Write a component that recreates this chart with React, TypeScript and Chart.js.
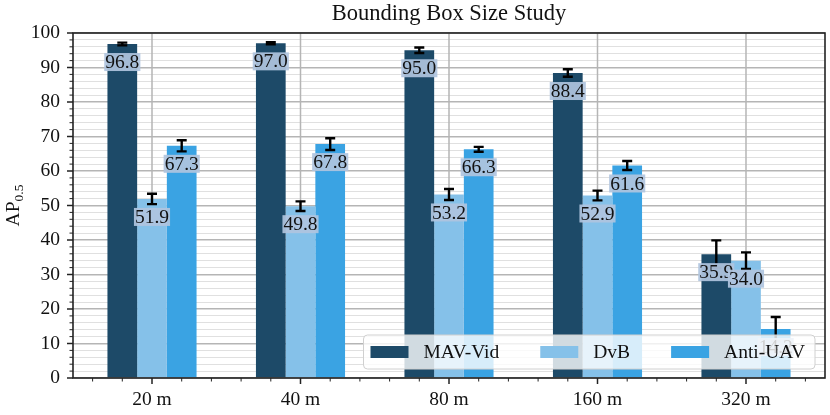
import React, { useEffect, useRef } from "react";
import Chart from "chart.js/auto";

const distances = ["20 m", "40 m", "80 m", "160 m", "320 m"];
const seriesNames = ["MAV-Vid", "DvB", "Anti-UAV"];
const mavVid = [96.8, 97.0, 95.0, 88.4, 35.9];
const mavVidErr = [0.4, 0.3, 0.8, 1.1, 4.0];
const dvb = [51.9, 49.8, 53.2, 52.9, 34.0];
const dvbErr = [1.5, 1.4, 1.6, 1.4, 2.4];
const antiUav = [67.3, 67.8, 66.3, 61.6, 14.2];
const antiUavErr = [1.6, 1.7, 0.7, 1.3, 3.5];

const colors = ["#1d4a68", "#85c1e9", "#3aa3e3"];
const FONT = '"Liberation Serif", "DejaVu Serif", serif';

// extra drawing: vertical grid, error bars, value labels, frame, minor ticks, legend, titles
const decorPlugin = {
  id: "decor",
  beforeDatasetsDraw(chart: any) {
    const ctx = chart.ctx;
    const { top, bottom } = chart.chartArea;
    const xScale = chart.scales.x;
    ctx.save();
    ctx.strokeStyle = "#b5b5b5";
    ctx.lineWidth = 1.5;
    xScale.ticks.forEach((t: any) => {
      const x = xScale.getPixelForValue(t.value);
      ctx.beginPath();
      ctx.moveTo(x, top);
      ctx.lineTo(x, bottom);
      ctx.stroke();
    });
    ctx.restore();
  },
  afterDatasetsDraw(chart: any) {
    const ctx = chart.ctx;
    const yScale = chart.scales.y;
    ctx.save();
    // error bars
    chart.data.datasets.forEach((ds: any, di: number) => {
      const meta = chart.getDatasetMeta(di);
      meta.data.forEach((el: any, i: number) => {
        const v = ds.data[i].y;
        const e = ds.errors[i];
        const yTop = yScale.getPixelForValue(v + e);
        const yBot = yScale.getPixelForValue(v - e);
        ctx.strokeStyle = "#000";
        ctx.lineWidth = 2.4;
        ctx.beginPath();
        ctx.moveTo(el.x, yTop);
        ctx.lineTo(el.x, yBot);
        ctx.moveTo(el.x - 5, yTop);
        ctx.lineTo(el.x + 5, yTop);
        ctx.moveTo(el.x - 5, yBot);
        ctx.lineTo(el.x + 5, yBot);
        ctx.stroke();
      });
    });
    // value labels
    ctx.font = `19.5px ${FONT}`;
    ctx.textAlign = "center";
    ctx.textBaseline = "middle";
    chart.data.datasets.forEach((ds: any, di: number) => {
      const meta = chart.getDatasetMeta(di);
      meta.data.forEach((el: any, i: number) => {
        const txt = ds.data[i].y.toFixed(1);
        const cy = el.y + 18;
        const w = ctx.measureText(txt).width + 2;
        ctx.fillStyle = "rgba(176,196,222,0.92)";
        ctx.fillRect(el.x - w / 2, cy - 9, w, 18);
        ctx.fillStyle = "#111";
        ctx.fillText(txt, el.x, cy + 1);
      });
    });
    ctx.restore();
  },
  afterDraw(chart: any) {
    const ctx = chart.ctx;
    const { left, right, top, bottom } = chart.chartArea;
    const xScale = chart.scales.x;
    const yScale = chart.scales.y;
    ctx.save();
    // frame
    ctx.strokeStyle = "#222";
    ctx.lineWidth = 1.6;
    ctx.strokeRect(left, top, right - left, bottom - top);
    // y tick marks
    yScale.ticks.forEach((t: any) => {
      const major = t.value % 10 === 0;
      const y = yScale.getPixelForValue(t.value);
      ctx.lineWidth = major ? 1.5 : 1;
      ctx.beginPath();
      ctx.moveTo(left - (major ? 6 : 3.5), y);
      ctx.lineTo(left, y);
      ctx.stroke();
    });
    // x tick marks, minor every 0.2
    for (let k = Math.ceil(xScale.min / 0.2); k <= Math.floor(xScale.max / 0.2); k++) {
      const major = k % 5 === 0;
      const x = xScale.getPixelForValue(k * 0.2);
      ctx.lineWidth = major ? 1.5 : 1;
      ctx.beginPath();
      ctx.moveTo(x, bottom);
      ctx.lineTo(x, bottom + (major ? 6 : 3.5));
      ctx.stroke();
    }
    // legend (lower right, inside plot)
    ctx.font = `19.5px ${FONT}`;
    const handleW = 38;
    const handleH = 12;
    const textGap = 15;
    const colGap = 41;
    const widths = seriesNames.map((n) => ctx.measureText(n).width);
    const total = 7 + widths.reduce((a, w) => a + handleW + textGap + w, 0) + colGap * 2 + 10;
    const lr = right - 10;
    const lb = bottom - 9;
    const lt = lb - 34;
    const ll = lr - total;
    ctx.beginPath();
    ctx.roundRect(ll, lt, total, 34, 4);
    ctx.fillStyle = "rgba(255,255,255,0.8)";
    ctx.fill();
    ctx.strokeStyle = "#d0d0d0";
    ctx.lineWidth = 1;
    ctx.stroke();
    let x = ll + 7;
    const cy = lt + 17;
    ctx.textAlign = "left";
    ctx.textBaseline = "middle";
    seriesNames.forEach((n, i) => {
      ctx.fillStyle = colors[i];
      ctx.fillRect(x, cy - handleH / 2, handleW, handleH);
      ctx.fillStyle = "#111";
      ctx.fillText(n, x + handleW + textGap, cy + 1);
      x += handleW + textGap + widths[i] + colGap;
    });
    // title
    ctx.font = `22.5px ${FONT}`;
    ctx.textAlign = "center";
    ctx.textBaseline = "alphabetic";
    ctx.fillStyle = "#111";
    ctx.fillText("Bounding Box Size Study", (left + right) / 2, 20);
    // y axis title AP_0.5
    ctx.translate(19, (top + bottom) / 2);
    ctx.rotate(-Math.PI / 2);
    ctx.font = `19.5px ${FONT}`;
    const w1 = ctx.measureText("AP").width;
    ctx.font = `13.5px ${FONT}`;
    const w2 = ctx.measureText("0.5").width;
    const start = -(w1 + w2) / 2;
    ctx.textAlign = "left";
    ctx.font = `19.5px ${FONT}`;
    ctx.fillText("AP", start, 0);
    ctx.font = `13.5px ${FONT}`;
    ctx.fillText("0.5", start + w1, 4);
    ctx.restore();
  },
};

const BarStudy = () => {
  const chartRef = useRef<HTMLCanvasElement>(null);
  const chartInstanceRef = useRef<any>(null);

  useEffect(() => {
    const ctx = chartRef.current!.getContext("2d")!;
    if (chartInstanceRef.current) chartInstanceRef.current.destroy();

    const series = [mavVid, dvb, antiUav];
    const errs = [mavVidErr, dvbErr, antiUavErr];

    chartInstanceRef.current = new Chart(ctx, {
      type: "bar",
      data: {
        datasets: series.map((vals, si) => ({
          label: seriesNames[si],
          data: vals.map((v, i) => ({ x: i, y: v })),
          errors: errs[si],
          backgroundColor: colors[si],
          borderWidth: 0,
          categoryPercentage: 0.6,
          barPercentage: 1,
        })) as any,
      },
      options: {
        animation: false,
        responsive: true,
        maintainAspectRatio: false,
        layout: { padding: { top: 33, right: 5, left: 0, bottom: 0 } },
        plugins: {
          legend: { display: false },
          title: { display: false },
          tooltip: { enabled: false },
        },
        scales: {
          x: {
            type: "linear",
            min: -0.532,
            max: 4.532,
            offset: false,
            afterBuildTicks: (scale: any) => {
              scale.ticks = distances.map((_, i) => ({ value: i }));
            },
            afterFit: (scale: any) => {
              scale.height = 37;
            },
            ticks: {
              autoSkip: false,
              maxRotation: 0,
              padding: 4,
              color: "#111",
              font: { family: FONT, size: 19.5 },
              callback: (v: any, i: number) => distances[i],
            },
            grid: {
              drawOnChartArea: false,
              tickLength: 6,
              tickColor: "transparent",
            },
            border: { display: false },
          },
          y: {
            min: 0,
            max: 100,
            afterFit: (scale: any) => {
              scale.width = 73;
            },
            ticks: {
              stepSize: 2,
              autoSkip: false,
              padding: 7,
              color: "#111",
              font: { family: FONT, size: 19.5 },
              callback: (v: any) => (Number(v) % 10 === 0 ? String(v) : ""),
            },
            grid: {
              color: (c: any) => (c.tick && c.tick.value % 10 === 0 ? "#b5b5b5" : "#e0e0e0"),
              lineWidth: (c: any) => (c.tick && c.tick.value % 10 === 0 ? 1.5 : 1),
              tickLength: 6,
              tickColor: "transparent",
            },
            border: { display: false },
          },
        },
      },
      plugins: [decorPlugin],
    });

    return () => {
      if (chartInstanceRef.current) {
        chartInstanceRef.current.destroy();
        chartInstanceRef.current = null;
      }
    };
  }, []);

  return (
    <div style={{ position: "fixed", left: 0, top: 0, width: 830, height: 415, background: "#fff" }}>
      <canvas ref={chartRef} />
    </div>
  );
};

export default function App() {
  return <BarStudy />;
}
